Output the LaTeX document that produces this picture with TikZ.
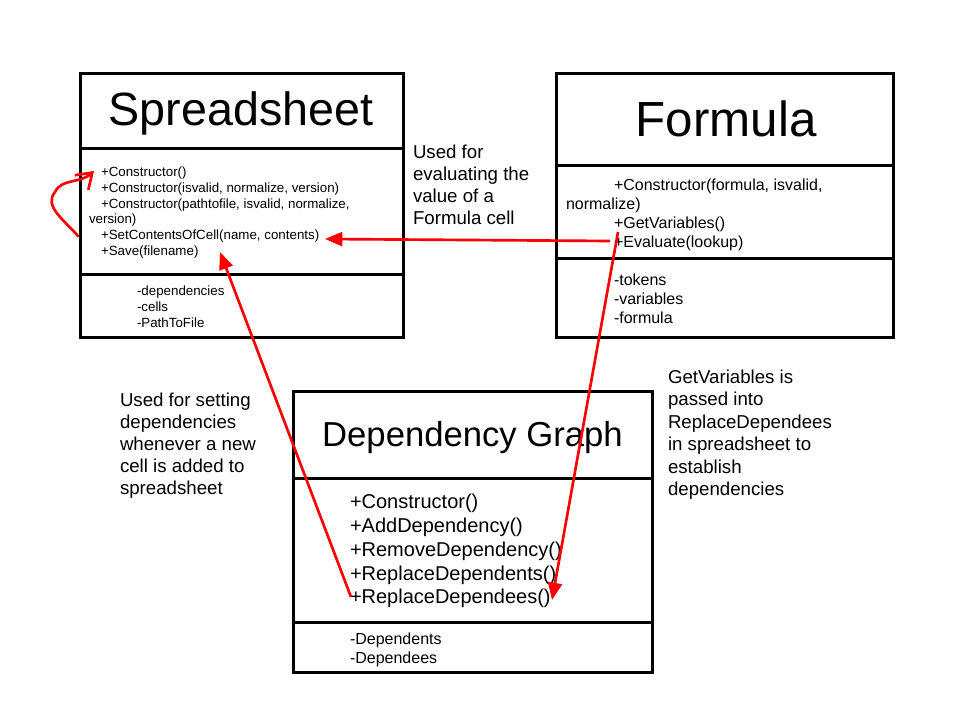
\documentclass[tikz,border=0pt]{standalone}
\usepackage{fontspec}
\setmainfont{Liberation Sans}
\usetikzlibrary{arrows.meta,fit}
\begin{document}
\begin{tikzpicture}[x=0.75pt,y=-0.75pt]
\tikzset{
  lbl/.style={anchor=base west, inner sep=0pt, outer sep=0pt},
  ttl/.style={anchor=base, inner sep=0pt, outer sep=0pt},
  umlbox/.style={draw=black, line width=2.25pt, inner sep=0pt, outer sep=0pt},
  divline/.style={draw=black, line width=2.25pt},
  redarrow/.style={draw=red, line width=2pt, -{Triangle[length=13pt,width=10.5pt]}},
  looparrow/.style={draw=red, line width=2pt, line cap=round, -{Straight Barb[length=11pt,width=15pt]}},
  fsmall/.style={font=\fontsize{10pt}{12pt}\selectfont},
  fmid/.style={font=\fontsize{12pt}{14pt}\selectfont},
  fbig/.style={font=\fontsize{15pt}{18pt}\selectfont},
  fnote/.style={font=\fontsize{14pt}{16.5pt}\selectfont},
}
\useasboundingbox (0,0) rectangle (960,720);
\fill[white] (0,0) rectangle (960,720);

% ---------- Spreadsheet ----------
\node[umlbox, fit={(80,74) (403,337)}] (ss) {};
\draw[divline] (80,148.5) -- (403,148.5);
\draw[divline] (80,274.5) -- (403,274.5);
\node[ttl, font=\fontsize{35pt}{40pt}\selectfont] (sst) at (241,126) {Spreadsheet};
\node[lbl, fsmall] (ssm1) at (101,177) {+Constructor()};
\node[lbl, fsmall] (ssm2) at (101,192.7) {+Constructor(isvalid, normalize, version)};
\node[lbl, fsmall] (ssm3) at (101,208.3) {+Constructor(pathtofile, isvalid, normalize,};
\node[lbl, fsmall] (ssm3b) at (89,224) {version)};
\node[lbl, fsmall] (ssm4) at (101,240) {+SetContentsOfCell(name, contents)};
\node[lbl, fsmall] (ssm5) at (101,255.7) {+Save(filename)};
\node[lbl, fsmall] (ssa1) at (137,295.5) {-dependencies};
\node[lbl, fsmall] (ssa2) at (137,311.2) {-cells};
\node[lbl, fsmall] (ssa3) at (137,327) {-PathToFile};

% ---------- Formula ----------
\node[umlbox, fit={(556.5,74) (893.5,337)}] (fm) {};
\draw[divline] (556.5,166) -- (893.5,166);
\draw[divline] (556.5,259) -- (893.5,259);
\node[ttl, font=\fontsize{37pt}{42pt}\selectfont] (fmt) at (726,137) {Formula};
\node[lbl, fmid] (fmm1) at (614,190.5) {+Constructor(formula, isvalid,};
\node[lbl, fmid] (fmm1b) at (566,209.5) {normalize)};
\node[lbl, fmid] (fmm2) at (614,228.5) {+GetVariables()};
\node[lbl, fmid] (fmm3) at (614,247.3) {+Evaluate(lookup)};
\node[lbl, fmid] (fma1) at (614,285.5) {-tokens};
\node[lbl, fmid] (fma2) at (614,304.5) {-variables};
\node[lbl, fmid] (fma3) at (614,323.5) {-formula};

% ---------- Dependency Graph ----------
\node[umlbox, fit={(293,391) (652.5,672)}] (dg) {};
\draw[divline] (293,478) -- (652.5,478);
\draw[divline] (293,622) -- (652.5,622);
\node[ttl, font=\fontsize{26pt}{30pt}\selectfont] (dgt) at (472.5,446) {Dependency Graph};
\node[lbl, fbig] (dgm1) at (350,508.3) {+Constructor()};
\node[lbl, fbig] (dgm2) at (350,532) {+AddDependency()};
\node[lbl, fbig] (dgm3) at (350,556) {+RemoveDependency()};
\node[lbl, fbig] (dgm4) at (350,580) {+ReplaceDependents()};
\node[lbl, fbig] (dgm5) at (350,603.5) {+ReplaceDependees()};
\node[lbl, fmid] (dga1) at (350,644) {-Dependents};
\node[lbl, fmid] (dga2) at (350,663) {-Dependees};

% ---------- Notes ----------
\node[lbl, fnote] (na1) at (413,158.3) {Used for};
\node[lbl, fnote] (na2) at (413,180.3) {evaluating the};
\node[lbl, fnote] (na3) at (413,202.5) {value of a};
\node[lbl, fnote] (na4) at (413,224.3) {Formula cell};

\node[lbl, fnote] (nb1) at (120,406.7) {Used for setting};
\node[lbl, fnote] (nb2) at (120,428.5) {dependencies};
\node[lbl, fnote] (nb3) at (120,450.3) {whenever a new};
\node[lbl, fnote] (nb4) at (120,472.3) {cell is added to};
\node[lbl, fnote] (nb5) at (120,494.2) {spreadsheet};

\node[lbl, fnote] (nc1) at (668,383.3) {GetVariables is};
\node[lbl, fnote] (nc2) at (668,405.7) {passed into};
\node[lbl, fnote] (nc3) at (668,428.3) {ReplaceDependees};
\node[lbl, fnote] (nc4) at (668,450.7) {in spreadsheet to};
\node[lbl, fnote] (nc5) at (668,473) {establish};
\node[lbl, fnote] (nc6) at (668,495) {dependencies};

% ---------- Connectors ----------
\coordinate (evs) at (610,241);
\coordinate (sct) at (325,239);
\coordinate (rds) at (351,597);
\coordinate (svt) at (220,252);
\coordinate (gvs) at (618,232);
\coordinate (rdt) at (552,600);
\coordinate (lps) at (78,236);
\coordinate (lpm) at (55,192);
\coordinate (lpt) at (94,171);

\draw[redarrow] (evs) -- (sct);
\draw[redarrow] (rds) -- (svt);
\draw[redarrow] (gvs) -- (rdt);
\draw[looparrow] (lps) .. controls (62,218) and (44,206) .. (lpm)
                 .. controls (62,178) and (80,184) .. (lpt);
\end{tikzpicture}
\end{document}
